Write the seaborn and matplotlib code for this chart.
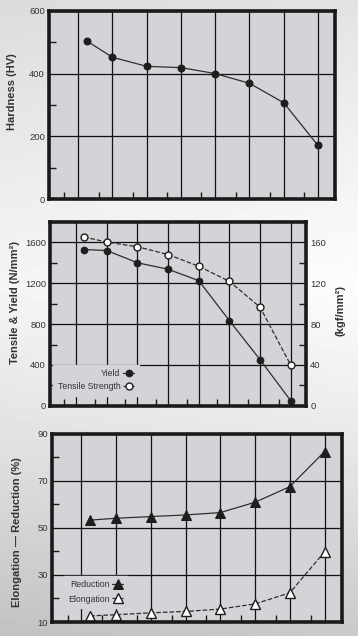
import numpy as np
import pandas as pd
import seaborn as sns
import matplotlib.pyplot as plt
from matplotlib.ticker import FixedLocator, MultipleLocator, NullFormatter

# sample positions along x (first sample sits a little right of its grid line)
steps = [1.25, 2, 3, 4, 5, 6, 7, 8]
grid_x = [1, 2, 3, 4, 5, 6, 7, 8]
minor_x = [0.6, 1.6, 2.6, 3.6, 4.6, 5.6, 6.6, 7.6]

hardness = [504, 452, 423, 419, 400, 369, 307, 171]
yield_n = [1530, 1520, 1400, 1337, 1225, 833, 451, 49]
tensile_n = [1653, 1603, 1557, 1481, 1366, 1218, 965, 398]
reduction = [53.3, 54.1, 54.8, 55.5, 56.5, 60.9, 67.5, 82.4]
elongation = [12.6, 13.1, 13.9, 14.5, 15.5, 17.7, 22.4, 39.8]

df = pd.DataFrame({"step": steps, "hardness": hardness, "yield": yield_n,
                   "tensile": tensile_n, "reduction": reduction,
                   "elongation": elongation})

sns.set_style("ticks")
plt.rcParams["font.family"] = ["Liberation Sans", "DejaVu Sans"]

FACE = "#d3d4d7"
LINE = "#2e2e2e"
TXT = "#333333"
TICK_FS = 6.8

fig = plt.figure(figsize=(3.58, 6.36), dpi=100)

# soft grey background gradient
bg = fig.add_axes([0, 0, 1, 1], zorder=-10)
yy = np.linspace(0, 1, 200)
col = np.interp(yy, [0, 0.3, 0.45, 0.7, 1.0], [0.86, 0.93, 0.96, 0.88, 0.76])
xx = np.linspace(0, 1, 100)
img = col[:, None] + 0.03 * xx[None, :]
bg.imshow(np.clip(img, 0, 1), cmap="gray", vmin=0, vmax=1, aspect="auto",
          extent=[0, 1, 1, 0])
bg.axis("off")


def style(ax, ymajor, yminor):
    ax.set_facecolor(FACE)
    for s in ax.spines.values():
        s.set_linewidth(2.6)
        s.set_color("#1a1a1a")
        s.set_visible(True)
    ax.set_xlim(0.15, 8.5)
    ax.xaxis.set_major_locator(FixedLocator(grid_x))
    ax.xaxis.set_minor_locator(FixedLocator(minor_x))
    ax.xaxis.set_major_formatter(NullFormatter())
    ax.yaxis.set_major_locator(FixedLocator(ymajor))
    ax.yaxis.set_minor_locator(FixedLocator(yminor))
    ax.tick_params(axis="both", which="major", length=0, labelsize=TICK_FS,
                   labelcolor=TXT, pad=3)
    ax.tick_params(axis="both", which="minor", direction="in", length=5,
                   width=1, color="#1a1a1a")
    ax.grid(True, which="major", color="#111111", linewidth=0.9)
    ax.set_xlabel("")


def legend(ax, anchor, spacing):
    ax.legend(loc="lower left", bbox_to_anchor=anchor, markerfirst=False,
              fontsize=6.3, handlelength=1.3, handleheight=1.0,
              handletextpad=0.3, labelspacing=spacing, borderpad=0.5,
              borderaxespad=0, frameon=True, facecolor=FACE, edgecolor=FACE,
              framealpha=1, fancybox=False, labelcolor=TXT)


# Hardness
ax1 = fig.add_axes([0.137, 0.687, 0.799, 0.296])
sns.lineplot(data=df, x="step", y="hardness", ax=ax1, color=LINE, lw=0.9,
             marker="o", markersize=5, markerfacecolor="#1e1e1e",
             markeredgecolor="#1e1e1e")
style(ax1, [0, 200, 400, 600], [100, 300, 500])
ax1.set_ylim(0, 600)
ax1.set_ylabel("Hardness (HV)", fontsize=8, fontweight="bold", color=TXT)
ax1.yaxis.set_label_coords(-0.112, 0.57)

# Tensile & Yield
ax2 = fig.add_axes([0.140, 0.362, 0.715, 0.289])
sns.lineplot(data=df, x="step", y="yield", ax=ax2, color=LINE, lw=0.9,
             marker="o", markersize=4.8, markerfacecolor="#1e1e1e",
             markeredgecolor="#1e1e1e", label="Yield")
sns.lineplot(data=df, x="step", y="tensile", ax=ax2, color=LINE, lw=0.9,
             ls="--", marker="o", markersize=5, markerfacecolor="white",
             markeredgecolor="#1e1e1e", markeredgewidth=1.0,
             label="Tensile Strength")
style(ax2, [0, 400, 800, 1200, 1600], [200, 600, 1000, 1400])
ax2.set_ylim(0, 1800)
ax2.set_ylabel("Tensile & Yield (N/mm²)", fontsize=8, fontweight="bold",
               color=TXT)
ax2.yaxis.set_label_coords(-0.117, 0.56)
legend(ax2, (0.012, 0.055), 0.45)

ax2r = ax2.twinx()
ax2r.set_ylim(0, 180)
ax2r.yaxis.set_major_locator(FixedLocator([0, 40, 80, 120, 160]))
ax2r.yaxis.set_minor_locator(FixedLocator([20, 60, 100, 140]))
ax2r.tick_params(axis="y", which="major", length=0, labelsize=TICK_FS,
                 labelcolor=TXT, pad=3)
ax2r.tick_params(axis="y", which="minor", direction="in", length=5, width=1,
                 color="#1a1a1a")
for s in ax2r.spines.values():
    s.set_visible(False)
ax2r.set_ylabel("(kgf/mm²)", fontsize=8, fontweight="bold", color=TXT)
ax2r.yaxis.set_label_coords(1.115, 0.52)

# Elongation / Reduction
ax3 = fig.add_axes([0.145, 0.022, 0.810, 0.296])
sns.lineplot(data=df, x="step", y="reduction", ax=ax3, color=LINE, lw=0.9,
             marker="^", markersize=7, markerfacecolor="#1e1e1e",
             markeredgecolor="#1e1e1e", label="Reduction")
sns.lineplot(data=df, x="step", y="elongation", ax=ax3, color=LINE, lw=0.9,
             ls="--", marker="^", markersize=7, markerfacecolor="white",
             markeredgecolor="#1e1e1e", markeredgewidth=1.0,
             label="Elongation")
style(ax3, [10, 30, 50, 70, 90], [20, 40, 60, 80])
ax3.set_ylim(10, 90)
ax3.set_ylabel("Elongation \u2014 Reduction (%)", fontsize=8,
               fontweight="bold", color=TXT)
ax3.yaxis.set_label_coords(-0.103, 0.48)
legend(ax3, (0.04, 0.075), 0.6)

fig.savefig("out.png", dpi=100)
